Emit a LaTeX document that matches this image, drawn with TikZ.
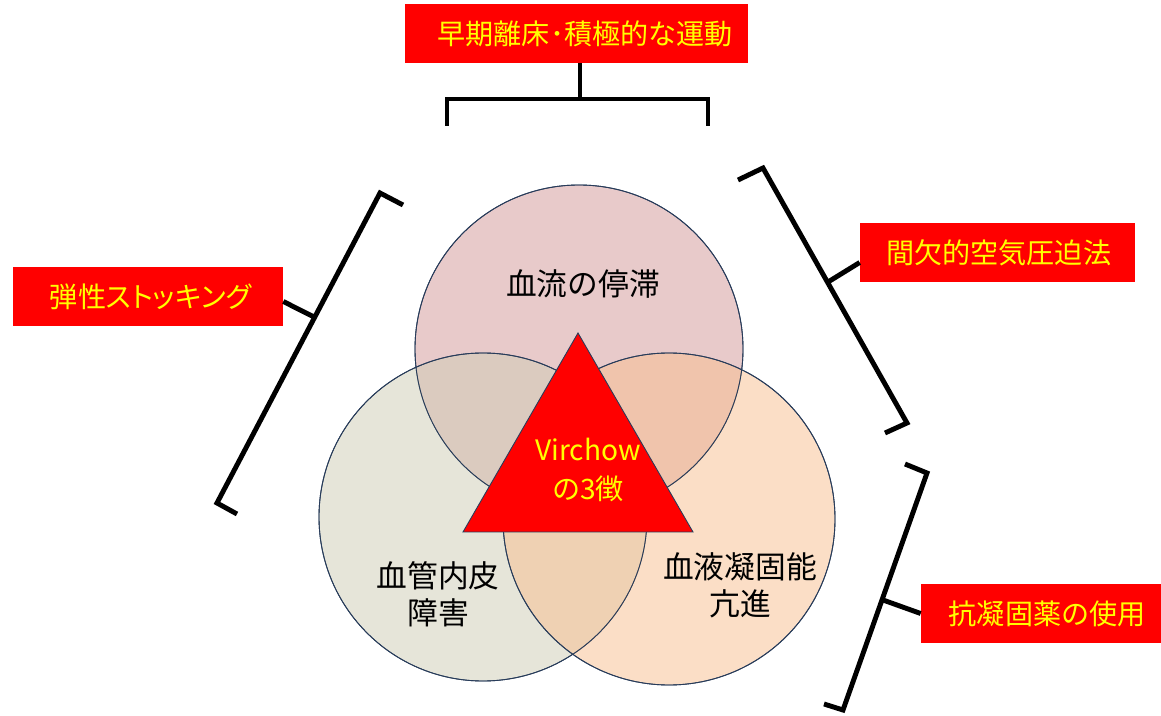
\documentclass[tikz,border=0pt]{standalone}
\usepackage{fontspec}
\setmainfont{Noto Sans CJK JP}
\usetikzlibrary{calc}
\definecolor{topc}{RGB}{211,151,151}
\definecolor{leftc}{RGB}{207,205,181}
\definecolor{rightc}{RGB}{249,191,143}
\definecolor{edgec}{RGB}{40,60,90}
\definecolor{boxred}{RGB}{255,0,0}
\definecolor{boxtext}{RGB}{255,255,0}
\begin{document}
\begin{tikzpicture}[x=0.02cm,y=-0.02cm,
  redbox/.style={fill=boxred, text=boxtext, inner sep=0pt, minimum height=1.18cm, font=\fontsize{16}{18}\selectfont},
  bracketline/.style={line width=2.8pt, line join=miter, line cap=butt},
  venn/.style={fill opacity=0.5, draw=edgec, draw opacity=1, line width=0.5pt},
  vlabel/.style={align=center, font=\fontsize{17.5}{21}\selectfont, text=black}
]
\useasboundingbox[fill=white] (0,0) rectangle (1161,716);

% Venn circles
\fill[venn, fill=topc] (579,349) circle[radius=164];
\fill[venn, fill=leftc] (483,517) circle[radius=164];
\fill[venn, fill=rightc] (669,519) circle[radius=166];
\draw[edgec, line width=0.5pt] (579,349) circle[radius=164];
\draw[edgec, line width=0.5pt] (483,517) circle[radius=164];
\draw[edgec, line width=0.5pt] (669,519) circle[radius=166];

% central triangle
\coordinate (apex) at (578,333);
\coordinate (bl) at (463,532);
\coordinate (br) at (693,532);
\filldraw[fill=boxred, draw=edgec, line width=0.5pt] (apex) -- (bl) -- (br) -- cycle;
\node[align=center, text=boxtext, font=\fontsize{16}{22}\selectfont] (virchow) at (588,470) {Virchow\\の3徴};

% circle labels
\node[vlabel] (stasis) at (583,284) {血流の停滞};
\node[vlabel] (endo) at (438,594) {血管内皮\\障害};
\node[vlabel] (coag) at (740,585) {血液凝固能\\亢進};

% red boxes
\node[redbox, minimum width=6.86cm] (topbox) at (576.5,33.5) {\hspace{0.35cm}早期離床･積極的な運動};
\node[redbox, minimum width=5.4cm] (leftbox) at (148,296.5) {\addfontfeatures{RawFeature=+palt}\hspace{0.1cm}弾性ストッキング};
\node[redbox, minimum width=5.5cm] (rtbox) at (997.5,252.5) {\hspace{0.05cm}間欠的空気圧迫法};
\node[redbox, minimum width=4.8cm] (rbbox) at (1041,613.5) {\hspace{0.25cm}抗凝固薬の使用};

% top bracket
\coordinate (tb) at (580,99);
\draw[bracketline] (447,126) -- (447,99) -- (708,99) -- (708,126);
\draw[bracketline] (topbox.south -| tb) -- (tb);

% left bracket
\coordinate (lb) at (314,317);
\draw[bracketline] (403,205) -- (380,193) -- (217,503) -- (237,514);
\draw[bracketline] ($(leftbox.east)+(0,5)$) -- (lb);

% right top bracket
\coordinate (rb) at (828,282);
\draw[bracketline] (738,180) -- (763,168) -- (907,423) -- (885,433);
\draw[bracketline] ($(rtbox.west)+(0,10)$) -- (rb);

% right bottom bracket
\coordinate (rbb) at (883,600);
\draw[bracketline] (905,464) -- (927,473) -- (843,710) -- (824,704);
\draw[bracketline] (rbbox.west) -- (rbb);
\end{tikzpicture}
\end{document}
